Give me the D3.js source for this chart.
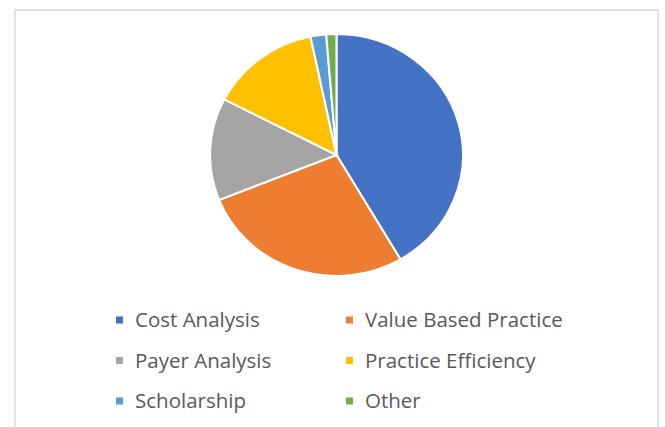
<!DOCTYPE html>
<html>
<head>
<meta charset="utf-8">
<script src="https://cdn.jsdelivr.net/npm/d3@7"></script>
<style>
  body { margin: 0; background: #fff; }
</style>
</head>
<body>
<div id="container"></div>
<script>
const WIDTH = 665;
const HEIGHT = 427;

const categories = ['Cost Analysis', 'Value Based Practice', 'Payer Analysis',
                    'Practice Efficiency', 'Scholarship', 'Other'];
const shares = [41.6, 27.4, 13.7, 14.1, 2.0, 1.3];
const colors = ['#4472C4', '#ED7D31', '#A5A5A5', '#FFC000', '#5B9BD5', '#70AD47'];

const CENTER = { X: 336.5, Y: 155 };
const RADIUS = 121;
const STRETCH = 1.045;   // the reference is a little wider than tall

const svg = d3.select('#container')
              .append('svg')
                .attr('width', WIDTH)
                .attr('height', HEIGHT);

// chart area frame
svg.append('rect')
     .attr('x', 15)
     .attr('y', 10)
     .attr('width', 643)
     .attr('height', 430)
     .attr('fill', 'none')
     .attr('stroke', '#d9d9d9')
     .attr('stroke-width', 1.5);

const pie = d3.pie().sort(null).value(d => d);
const arc = d3.arc().innerRadius(0).outerRadius(RADIUS);

const color = d3.scaleOrdinal().domain(categories).range(colors);

svg.append('g')
     .attr('transform', `translate(${CENTER.X}, ${CENTER.Y}) scale(${STRETCH}, 1)`)
   .selectAll('path')
   .data(pie(shares))
   .enter()
   .append('path')
     .attr('d', arc)
     .attr('fill', (d, i) => color(categories[i]))
     .attr('stroke', '#fff')
     .attr('stroke-width', 2);

// legend, two columns
const colX = d3.scaleOrdinal().domain([0, 1]).range([116, 346]);
const rowY = d3.scaleLinear().domain([0, 2]).range([320, 401]);

const legend = svg.append('g')
                  .selectAll('g')
                  .data(categories)
                  .enter()
                  .append('g')
                    .attr('transform', (d, i) =>
                          `translate(${colX(i % 2)}, ${rowY(Math.floor(i / 2))})`);

legend.append('rect')
        .attr('x', 0)
        .attr('y', -3.5)
        .attr('width', 7)
        .attr('height', 7)
        .attr('fill', d => color(d));

legend.append('text')
        .attr('x', 19)
        .attr('dy', '0.35em')
        .attr('fill', '#595959')
        .style('font-family', '"Open Sans", sans-serif')
        .style('font-size', '20.5px')
        .text(d => d);
</script>
</body>
</html>
